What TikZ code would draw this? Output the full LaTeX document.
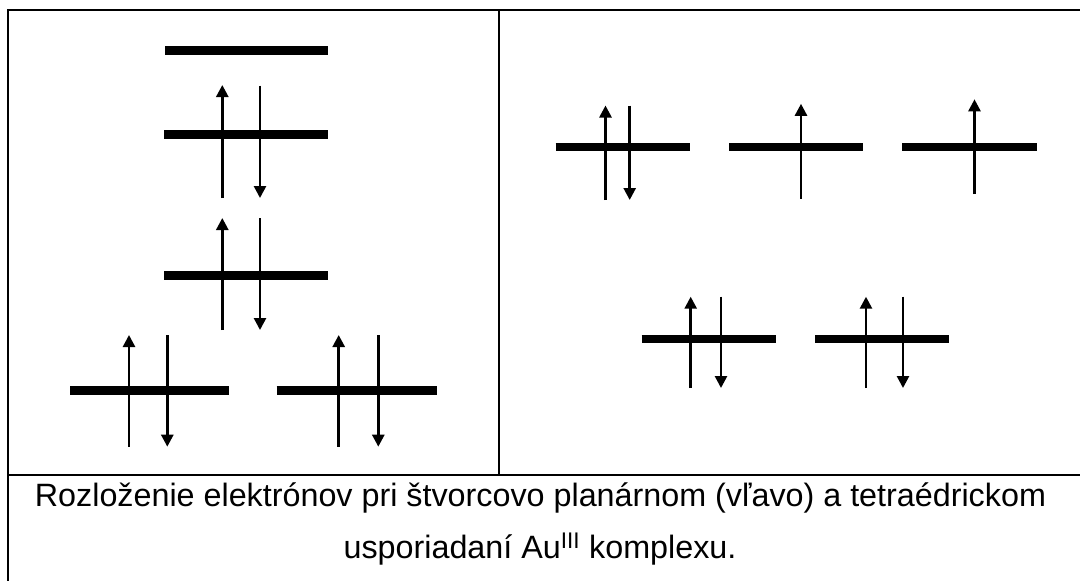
\documentclass[tikz,border=0pt]{standalone}
\usepackage{fontspec}
\setmainfont{Liberation Sans}
\usetikzlibrary{arrows.meta}
\begin{document}
\begin{tikzpicture}[x=1pt,y=-1pt,
  rule/.style={line width=2pt,line join=miter},
  thinrule/.style={line width=1.2pt},
  level/.style={line width=9pt},
  rlevel/.style={line width=7.5pt},
  spin/.style={line width=2.6pt,-{Triangle[width=12pt,length=12pt]}},
  caption/.style={anchor=base,inner sep=0pt,font=\fontsize{32.3}{38}\selectfont},
]
\useasboundingbox (0,0) rectangle (1080,581);

% table frame
\draw[rule] (7.5,581) -- (7.5,10) -- (69,10);
\draw[thinrule] (69,10) -- (437,10);
\draw[rule] (437,10) -- (1080,10);
\draw[rule] (499,10) -- (499,475);
\draw[rule] (7.5,475) -- (1080,475);

% left cell: square planar splitting
\draw[level] (165,50) -- (328,50);

\draw[level] (164,134.5) -- (328,134.5);
\draw[spin] (222.3,198) -- (222.3,85);
\draw[spin] (260,85.5) -- (260,198);

\draw[level] (164,275) -- (328,275);
\draw[spin] (222.3,330) -- (222.3,218);
\draw[spin] (260,218) -- (260,330);

\draw[level] (70,390) -- (229,390);
\draw[spin] (129,446.7) -- (129,335);
\draw[spin] (167.3,335) -- (167.3,446.7);

\draw[level] (276.7,390) -- (436.7,390);
\draw[spin] (338.7,446.7) -- (338.7,335);
\draw[spin] (378.3,335) -- (378.3,446.7);

% right cell: tetrahedral splitting
\draw[rlevel] (555.5,147) -- (690,147);
\draw[spin] (605.5,200) -- (605.5,105.5);
\draw[spin] (629.7,105.5) -- (629.7,200);

\draw[rlevel] (729,147) -- (863,147);
\draw[spin] (801,198.6) -- (801,103.8);

\draw[rlevel] (902,147) -- (1036.6,147);
\draw[spin] (974.5,194) -- (974.5,99.3);

\draw[rlevel] (641.7,339) -- (776,339);
\draw[spin] (690.7,388) -- (690.7,296.7);
\draw[spin] (721,296.7) -- (721,388);

\draw[rlevel] (815,339) -- (949,339);
\draw[spin] (866,388) -- (866,296.7);
\draw[spin] (903,296.7) -- (903,388);

% caption
\node[caption] (cap1) at (540.5,506) {Rozloženie elektrónov pri štvorcovo planárnom (vľavo) a tetraédrickom};
\node[caption] (cap2) at (540,558) {usporiadaní Au\textsuperscript{III} komplexu.};
\end{tikzpicture}
\end{document}
